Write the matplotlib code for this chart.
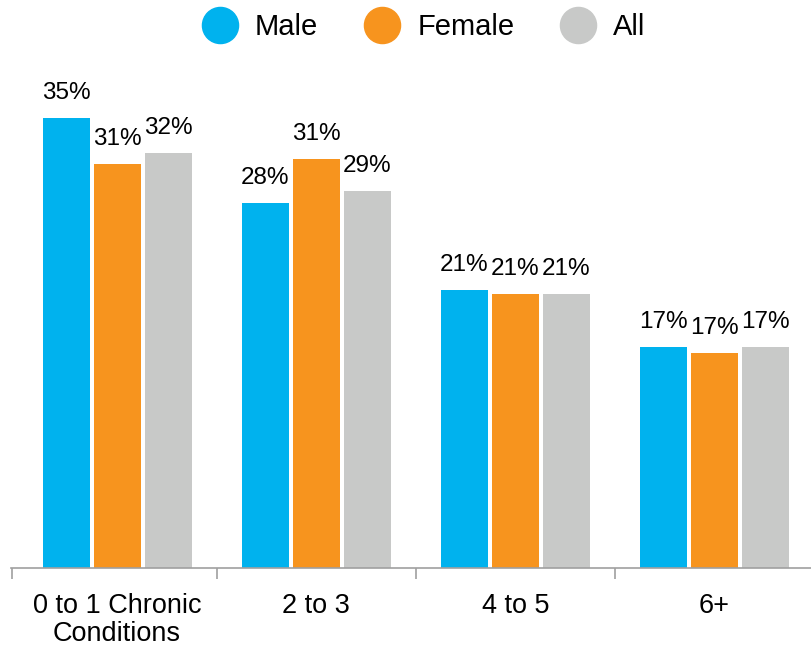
import numpy as np
import matplotlib.pyplot as plt
from matplotlib.lines import Line2D

plt.rcParams['font.family'] = ['Liberation Sans', 'DejaVu Sans']

categories = ['0 to 1 Chronic\nConditions', '2 to 3', '4 to 5', '6+']
series = ['Male', 'Female', 'All']
male = [35.0, 28.4, 21.6, 17.2]
female = [31.4, 31.8, 21.3, 16.7]
all_ = [32.3, 29.3, 21.3, 17.2]
labels = [['35%', '28%', '21%', '17%'],
          ['31%', '31%', '21%', '17%'],
          ['32%', '29%', '21%', '17%']]
colors = ['#00B2EE', '#F7941E', '#C8C9C8']

fig = plt.figure(figsize=(8.12, 6.48), dpi=100)
ax = fig.add_axes([11/812, 1-568/648, 1-11/812, (568-53.6)/648])

x = np.arange(len(categories))
w = 0.236
offs = [-0.256, 0, 0.256]
for vals, off, c, labs in zip([male, female, all_], offs, colors, labels):
    bars = ax.bar(x+off, vals, w, color=c)
    for b, v, l in zip(bars, vals, labs):
        ax.annotate(l, (b.get_x()+b.get_width()/2, v), xytext=(0, 10),
                    textcoords='offset points', ha='center', va='bottom', fontsize=17.5)

ax.set_xlim(-0.533, 3.49)
ax.set_ylim(0, 40)
ax.set_yticks([])
for s in ['top', 'right', 'left']:
    ax.spines[s].set_visible(False)
ax.spines['bottom'].set_color('#a0a0a0')
ax.spines['bottom'].set_linewidth(1.2)
ax.set_xticks(x)
ax.set_xticklabels(categories, fontsize=19.5, linespacing=1.1)
ax.tick_params(axis='x', which='major', length=0, pad=18)
ax.set_xticks([-0.53, 0.5, 1.5, 2.5], minor=True)
ax.tick_params(axis='x', which='minor', length=8, color='#a0a0a0', width=1.2)

handles = [Line2D([], [], marker='o', ls='none', markersize=26, color=c) for c in colors]
fig.legend(handles, series, loc='upper center', bbox_to_anchor=(0.515, 1.02), ncol=3,
           frameon=False, fontsize=21, handletextpad=0.2, columnspacing=1.2)

fig.savefig('out.png', dpi=100)
